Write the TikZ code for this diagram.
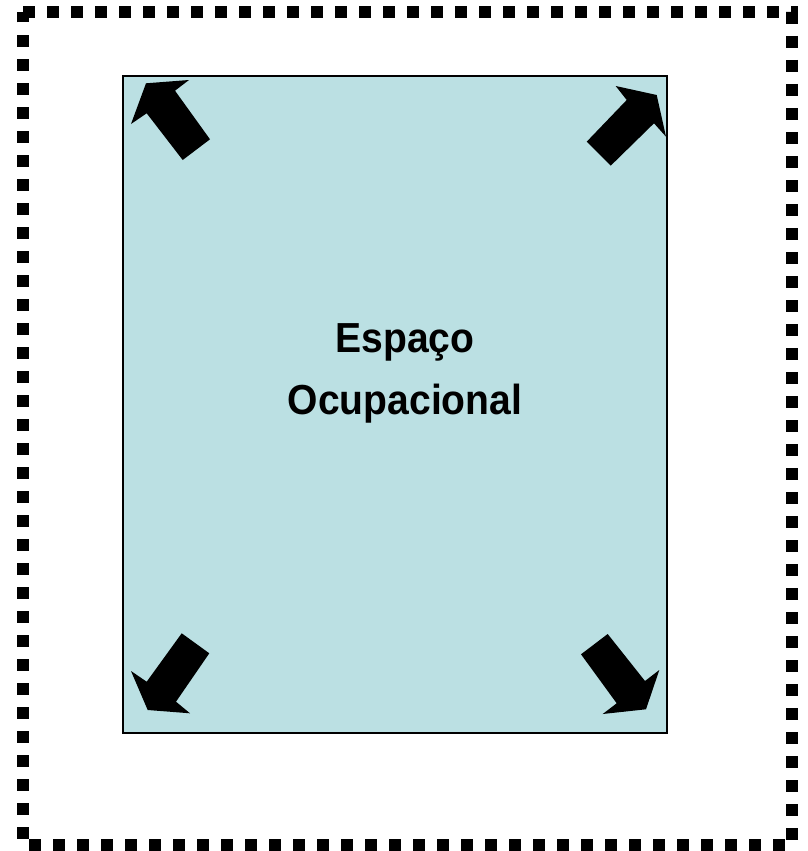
\documentclass[tikz,border=0pt]{standalone}
\usepackage{fontspec}
\newfontfamily\lblfont[FakeStretch=0.93]{Liberation Sans}
\definecolor{spacefill}{RGB}{187,224,227}
\tikzset{
  outerborder/.style={line width=12pt, dash pattern=on 12pt off 12pt, line cap=butt, line join=miter},
  spacebox/.style={draw=black, line width=2pt, fill=spacefill, inner sep=0pt, outer sep=0pt},
  blockarrow/.style={fill=black, draw=none},
  lbl/.style={font=\lblfont\bfseries\fontsize{42}{62}\selectfont, anchor=base, inner sep=0pt}
}
\begin{document}
\begin{tikzpicture}[x=1pt,y=-1pt]
\useasboundingbox (0,0) rectangle (807,851);
% outer dashed border
\draw[outerborder] (23,12.5) -- (791.5,12.5) -- (791.5,845) -- (23,845) -- cycle;
% occupational space
\node[spacebox, minimum width=544pt, minimum height=657pt] (space) at (395,404.5) {};
% corner arrows
\fill[blockarrow] (146,83.3) -- (189,80) -- (175,90.7) -- (210,139.3) -- (182.7,160) -- (146.7,113.3) -- (131,124) -- cycle;
\fill[blockarrow] (615.7,86) -- (656.7,95) -- (666,136.7) -- (654,123.3) -- (610.7,165.7) -- (586.7,141.7) -- (626.7,100) -- cycle;
\fill[blockarrow] (181.7,633.3) -- (209.3,653.3) -- (176,701.7) -- (190,713.3) -- (147.7,710) -- (131,671) -- (146.7,681.7) -- cycle;
\fill[blockarrow] (581,654.3) -- (607.7,634) -- (645,681) -- (659.3,670) -- (646,709.3) -- (602.7,714) -- (616.7,703.3) -- cycle;
% label
\node[lbl] (line1) at (405,352) {Espaço};
\node[lbl] (line2) at (405,414) {Ocupacional};
\end{tikzpicture}
\end{document}
